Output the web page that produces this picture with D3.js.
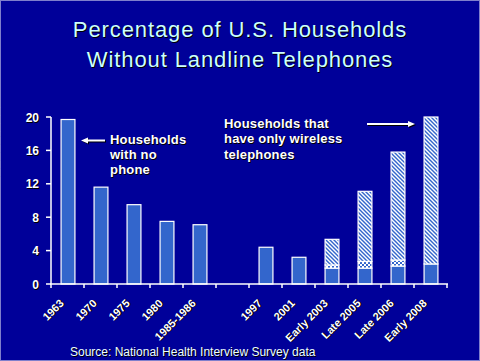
<!DOCTYPE html>
<html><head><meta charset="utf-8">
<script src="https://cdn.jsdelivr.net/npm/d3@7"></script>
<style>html,body{margin:0;padding:0;background:#000099;}svg{display:block;}</style>
</head><body>
<script>
const categories = ["1963","1970","1975","1980","1985-1986","","1997","2001","Early 2003","Late 2005","Late 2006","Early 2008"];
const noPhone     = [19.7, 11.6, 9.5, 7.5, 7.1, 0, 4.4, 3.2, 1.9, 1.9, 2.15, 2.4];
const unknownPart = [0, 0, 0, 0, 0, 0, 0, 0, 0.38, 0.8, 0.72, 0];
const wirelessOnly= [0, 0, 0, 0, 0, 0, 0, 0, 3.07, 8.4, 12.93, 17.6];
const yTicks = [0, 4, 8, 12, 16, 20];
const titleLines = ["Percentage of U.S. Households", "Without Landline Telephones"];
const note1 = ["Households", "with no", "phone"];
const note2 = ["Households that", "have only wireless", "telephones"];
const sourceText = "Source: National Health Interview Survey data";

const W = 480, H = 361;
const svg = d3.select("body").append("svg").attr("width", W).attr("height", H);
const FONT = "'Liberation Sans', Arial, sans-serif";
const BAR = "#3366CC";

svg.append("rect").attr("width", W).attr("height", H).attr("fill", "#000099");
svg.append("rect").attr("x", 0.5).attr("y", 0.5).attr("width", W - 1).attr("height", H - 1)
  .attr("fill", "none").attr("stroke", "#fff").attr("stroke-width", 1).attr("stroke-dasharray", "1,1");

const defs = svg.append("defs");
const pd = defs.append("pattern").attr("id", "diag").attr("patternUnits", "userSpaceOnUse").attr("width", 4).attr("height", 4);
pd.append("rect").attr("width", 4).attr("height", 4).attr("fill", BAR);
pd.append("path").attr("d", "M-1,-1L5,5M-1,3L1,5M3,-1L5,1").attr("stroke", "#fff").attr("stroke-width", 1.4);
const pc = defs.append("pattern").attr("id", "cross").attr("patternUnits", "userSpaceOnUse").attr("width", 4).attr("height", 4);
pc.append("rect").attr("width", 4).attr("height", 4).attr("fill", BAR);
pc.append("rect").attr("width", 2).attr("height", 2).attr("fill", "#fff");
pc.append("rect").attr("x", 2).attr("y", 2).attr("width", 2).attr("height", 2).attr("fill", "#fff");

function shadowText(g, x, y, txt, opts) {
  const s = g.append("g").attr("font-family", FONT).attr("font-size", opts.size)
    .attr("font-weight", opts.weight || "normal").attr("text-anchor", opts.anchor || "start")
    .attr("letter-spacing", opts.ls || 0);
  s.append("text").attr("x", x + 1).attr("y", y + 1).attr("fill", "#000").text(txt);
  s.append("text").attr("x", x).attr("y", y).attr("fill", opts.color || "#fff").text(txt);
  return s;
}

// Title
titleLines.forEach((t, i) => shadowText(svg, 240, 37 + i * 29.7, t, {size: 22, anchor: "middle", ls: 0.9, color: "#CCFFFF"}));

const x = d3.scaleBand().domain(d3.range(categories.length)).range([51, 447]).padding(0);
const y = d3.scaleLinear().domain([0, 20]).range([284, 117]);
const bw = x.bandwidth() * 0.42;
const bx = i => x(i) + (x.bandwidth() - bw) / 2 + 0.5;

const rows = categories.map((c, i) => ({i, a: noPhone[i], b: unknownPart[i], c: wirelessOnly[i]}));
const bars = svg.append("g");
rows.filter(d => d.a > 0).forEach(d => {
  const segs = [[0, d.a, BAR], [d.a, d.a + d.b, "url(#cross)"], [d.a + d.b, d.a + d.b + d.c, "url(#diag)"]];
  segs.forEach(([lo, hi, fill]) => {
    if (hi - lo <= 0) return;
    bars.append("rect").attr("x", bx(d.i)).attr("y", y(hi)).attr("width", bw).attr("height", y(lo) - y(hi))
      .attr("fill", fill).attr("stroke", "#fff").attr("stroke-width", 1.2);
  });
});

// Axes
const ax = svg.append("g").attr("stroke", "#fff").attr("stroke-width", 1.5);
ax.append("line").attr("x1", 51).attr("x2", 51).attr("y1", y(20)).attr("y2", y(0));
yTicks.forEach(t => ax.append("line").attr("x1", 46).attr("x2", 51).attr("y1", y(t)).attr("y2", y(t)));
ax.append("line").attr("x1", 50).attr("x2", 448).attr("y1", y(0)).attr("y2", y(0));
d3.range(categories.length + 1).forEach(k => {
  const xx = k < categories.length ? x(k) : x(categories.length - 1) + x.bandwidth();
  ax.append("line").attr("x1", xx).attr("x2", xx).attr("y1", y(0)).attr("y2", y(0) + 4);
});

yTicks.forEach(t => shadowText(svg, 39, y(t) + 4.5, String(t), {size: 12, weight: "bold", anchor: "end"}));

categories.forEach((c, i) => {
  if (!c) return;
  const cx = x(i) + x.bandwidth() / 2 - 3, cy = 304;
  const g = svg.append("g").attr("transform", `translate(${cx},${cy}) rotate(-45)`);
  shadowText(g, 0, 0, c, {size: 11, weight: "bold", anchor: "end"});
});

// Annotations
note1.forEach((t, i) => shadowText(svg, 110, 143.5 + i * 15.3, t, {size: 13, weight: "bold", ls: 0.2}));
note2.forEach((t, i) => shadowText(svg, 224, 127.5 + i * 15.5, t, {size: 13, weight: "bold", ls: 0.2}));

function arrow(x1, x2, yy) {
  const g = svg.append("g");
  const dir = Math.sign(x2 - x1);
  [[1, "#000"], [0, "#fff"]].forEach(([o, col]) => {
    g.append("line").attr("x1", x1 + o).attr("x2", x2 - dir * 5 + o).attr("y1", yy + o).attr("y2", yy + o)
      .attr("stroke", col).attr("stroke-width", 2);
    g.append("path").attr("d", `M${x2 + o},${yy + o}L${x2 - dir * 7 + o},${yy - 3 + o}L${x2 - dir * 7 + o},${yy + 3 + o}Z`).attr("fill", col);
  });
}
arrow(105, 81, 140.5);
arrow(367, 415, 124);

shadowText(svg, 70, 356, sourceText, {size: 12, color: "#EEFFFF"});
</script>
</body></html>
